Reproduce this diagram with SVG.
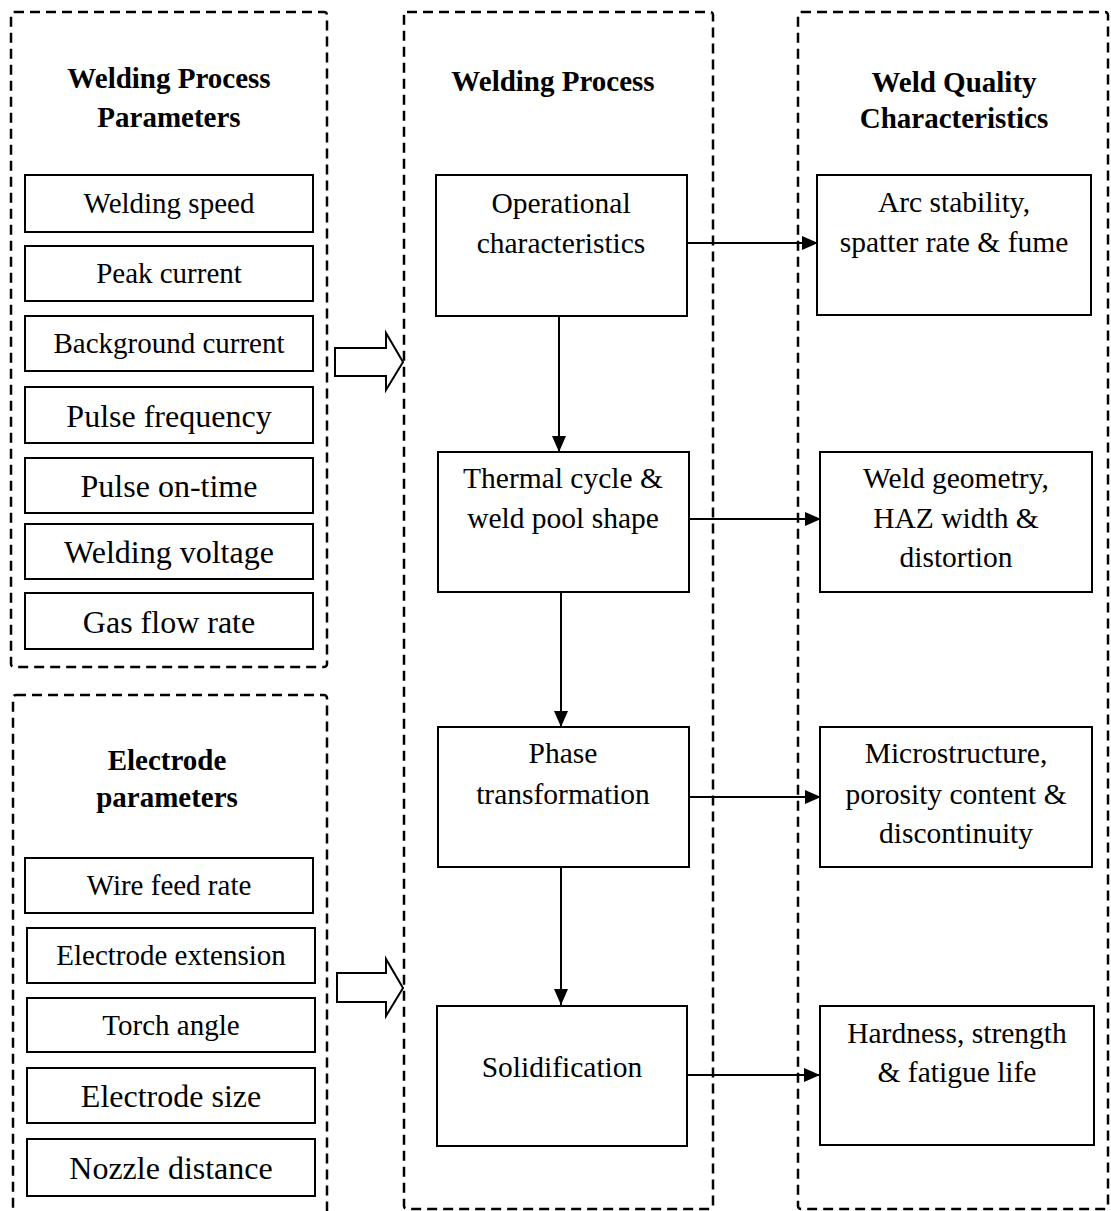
<svg xmlns="http://www.w3.org/2000/svg" width="1111" height="1211" viewBox="0 0 1111 1211">
<style>
text{font-family:"Liberation Serif","Times New Roman",serif;fill:#000;text-anchor:middle}
.t{font-size:29px;font-weight:bold}
.s{font-size:29px}
.m{font-size:32px}
.p{font-size:29.5px}
.grp{fill:none;stroke:#000;stroke-width:2.5;stroke-dasharray:10 6}
.box{fill:#fff;stroke:#000;stroke-width:2}
.con{stroke:#000;stroke-width:2;fill:none}
.blk{fill:#fff;stroke:#000;stroke-width:2;stroke-linejoin:miter}
</style>
<defs>
<marker id="ah" viewBox="0 0 16 14" refX="16" refY="7" markerWidth="16" markerHeight="14" markerUnits="userSpaceOnUse" orient="auto">
<path d="M0,0 L16,7 L0,14 Z" fill="#000"/>
</marker>
</defs>
<rect width="1111" height="1211" fill="#fff"/>

<g id="group-params">
<rect class="grp" x="11" y="12" width="316" height="655" rx="3"/>
<text class="t" x="169" y="88">Welding Process</text>
<text class="t" x="169" y="127">Parameters</text>
</g>
<g id="group-electrode">
<rect class="grp" x="13" y="695" width="314" height="530" rx="3"/>
<text class="t" x="167" y="770">Electrode</text>
<text class="t" x="167" y="807">parameters</text>
</g>
<g id="group-process">
<rect class="grp" x="404" y="12" width="309" height="1197" rx="3"/>
<text class="t" x="553" y="91">Welding Process</text>
</g>
<g id="group-quality">
<rect class="grp" x="798" y="12" width="310" height="1197" rx="3"/>
<text class="t" x="954" y="92">Weld Quality</text>
<text class="t" x="954" y="128">Characteristics</text>
</g>

<g id="p-speed"><rect class="box" x="25" y="175" width="288" height="57"/><text class="s" x="169" y="213">Welding speed</text></g>
<g id="p-peak"><rect class="box" x="25" y="246" width="288" height="55"/><text class="s" x="169" y="283">Peak current</text></g>
<g id="p-background"><rect class="box" x="25" y="316" width="288" height="55"/><text class="s" x="169" y="353">Background current</text></g>
<g id="p-frequency"><rect class="box" x="25" y="387" width="288" height="56"/><text class="m" x="169" y="427">Pulse frequency</text></g>
<g id="p-ontime"><rect class="box" x="25" y="458" width="288" height="55"/><text class="m" x="169" y="497">Pulse on-time</text></g>
<g id="p-voltage"><rect class="box" x="25" y="524" width="288" height="55"/><text class="m" x="169" y="563">Welding voltage</text></g>
<g id="p-gas"><rect class="box" x="25" y="593" width="288" height="56"/><text class="m" x="169" y="633">Gas flow rate</text></g>

<g id="e-wire"><rect class="box" x="25" y="858" width="288" height="55"/><text class="s" x="169" y="895">Wire feed rate</text></g>
<g id="e-extension"><rect class="box" x="27" y="928" width="288" height="55"/><text class="s" x="171" y="965">Electrode extension</text></g>
<g id="e-torch"><rect class="box" x="27" y="998" width="288" height="54"/><text class="s" x="171" y="1035">Torch angle</text></g>
<g id="e-size"><rect class="box" x="27" y="1068" width="288" height="55"/><text class="m" x="171" y="1107">Electrode size</text></g>
<g id="e-nozzle"><rect class="box" x="27" y="1139" width="288" height="57"/><text class="m" x="171" y="1179">Nozzle distance</text></g>

<g id="w-operational"><rect class="box" x="436" y="175" width="251" height="141"/><text class="p" x="561" y="213">Operational</text><text class="p" x="561" y="253">characteristics</text></g>
<g id="w-thermal"><rect class="box" x="438" y="452" width="251" height="140"/><text class="p" x="563" y="488">Thermal cycle &amp;</text><text class="p" x="563" y="528">weld pool shape</text></g>
<g id="w-phase"><rect class="box" x="438" y="727" width="251" height="140"/><text class="p" x="563" y="763">Phase</text><text class="p" x="563" y="804">transformation</text></g>
<g id="w-solid"><rect class="box" x="437" y="1006" width="250" height="140"/><text class="p" x="562" y="1077">Solidification</text></g>

<g id="q-arc"><rect class="box" x="817" y="175" width="274" height="140"/><text class="p" x="954" y="212">Arc stability,</text><text class="p" x="954" y="252">spatter rate &amp; fume</text></g>
<g id="q-geometry"><rect class="box" x="820" y="452" width="272" height="140"/><text class="p" x="956" y="488">Weld geometry,</text><text class="p" x="956" y="528">HAZ width &amp;</text><text class="p" x="956" y="567">distortion</text></g>
<g id="q-micro"><rect class="box" x="820" y="727" width="272" height="140"/><text class="p" x="956" y="763">Microstructure,</text><text class="p" x="956" y="804">porosity content &amp;</text><text class="p" x="956" y="843">discontinuity</text></g>
<g id="q-hardness"><rect class="box" x="820" y="1006" width="274" height="139"/><text class="p" x="957" y="1043">Hardness, strength</text><text class="p" x="957" y="1082">&amp; fatigue life</text></g>

<g id="connectors">
<line class="con" x1="687" y1="243" x2="818" y2="243" marker-end="url(#ah)"/>
<line class="con" x1="559" y1="316" x2="559" y2="452" marker-end="url(#ah)"/>
<line class="con" x1="689" y1="519" x2="821" y2="519" marker-end="url(#ah)"/>
<line class="con" x1="561" y1="592" x2="561" y2="727" marker-end="url(#ah)"/>
<line class="con" x1="689" y1="797" x2="821" y2="797" marker-end="url(#ah)"/>
<line class="con" x1="561" y1="867" x2="561" y2="1005" marker-end="url(#ah)"/>
<line class="con" x1="687" y1="1075" x2="820" y2="1075" marker-end="url(#ah)"/>
<path class="blk" d="M335,348 L386,348 L386,333 L403,362 L386,390 L386,376 L335,376 Z"/>
<path class="blk" d="M337,973 L386,973 L386,959 L403,988 L386,1016 L386,1002 L337,1002 Z"/>
</g>
</svg>
